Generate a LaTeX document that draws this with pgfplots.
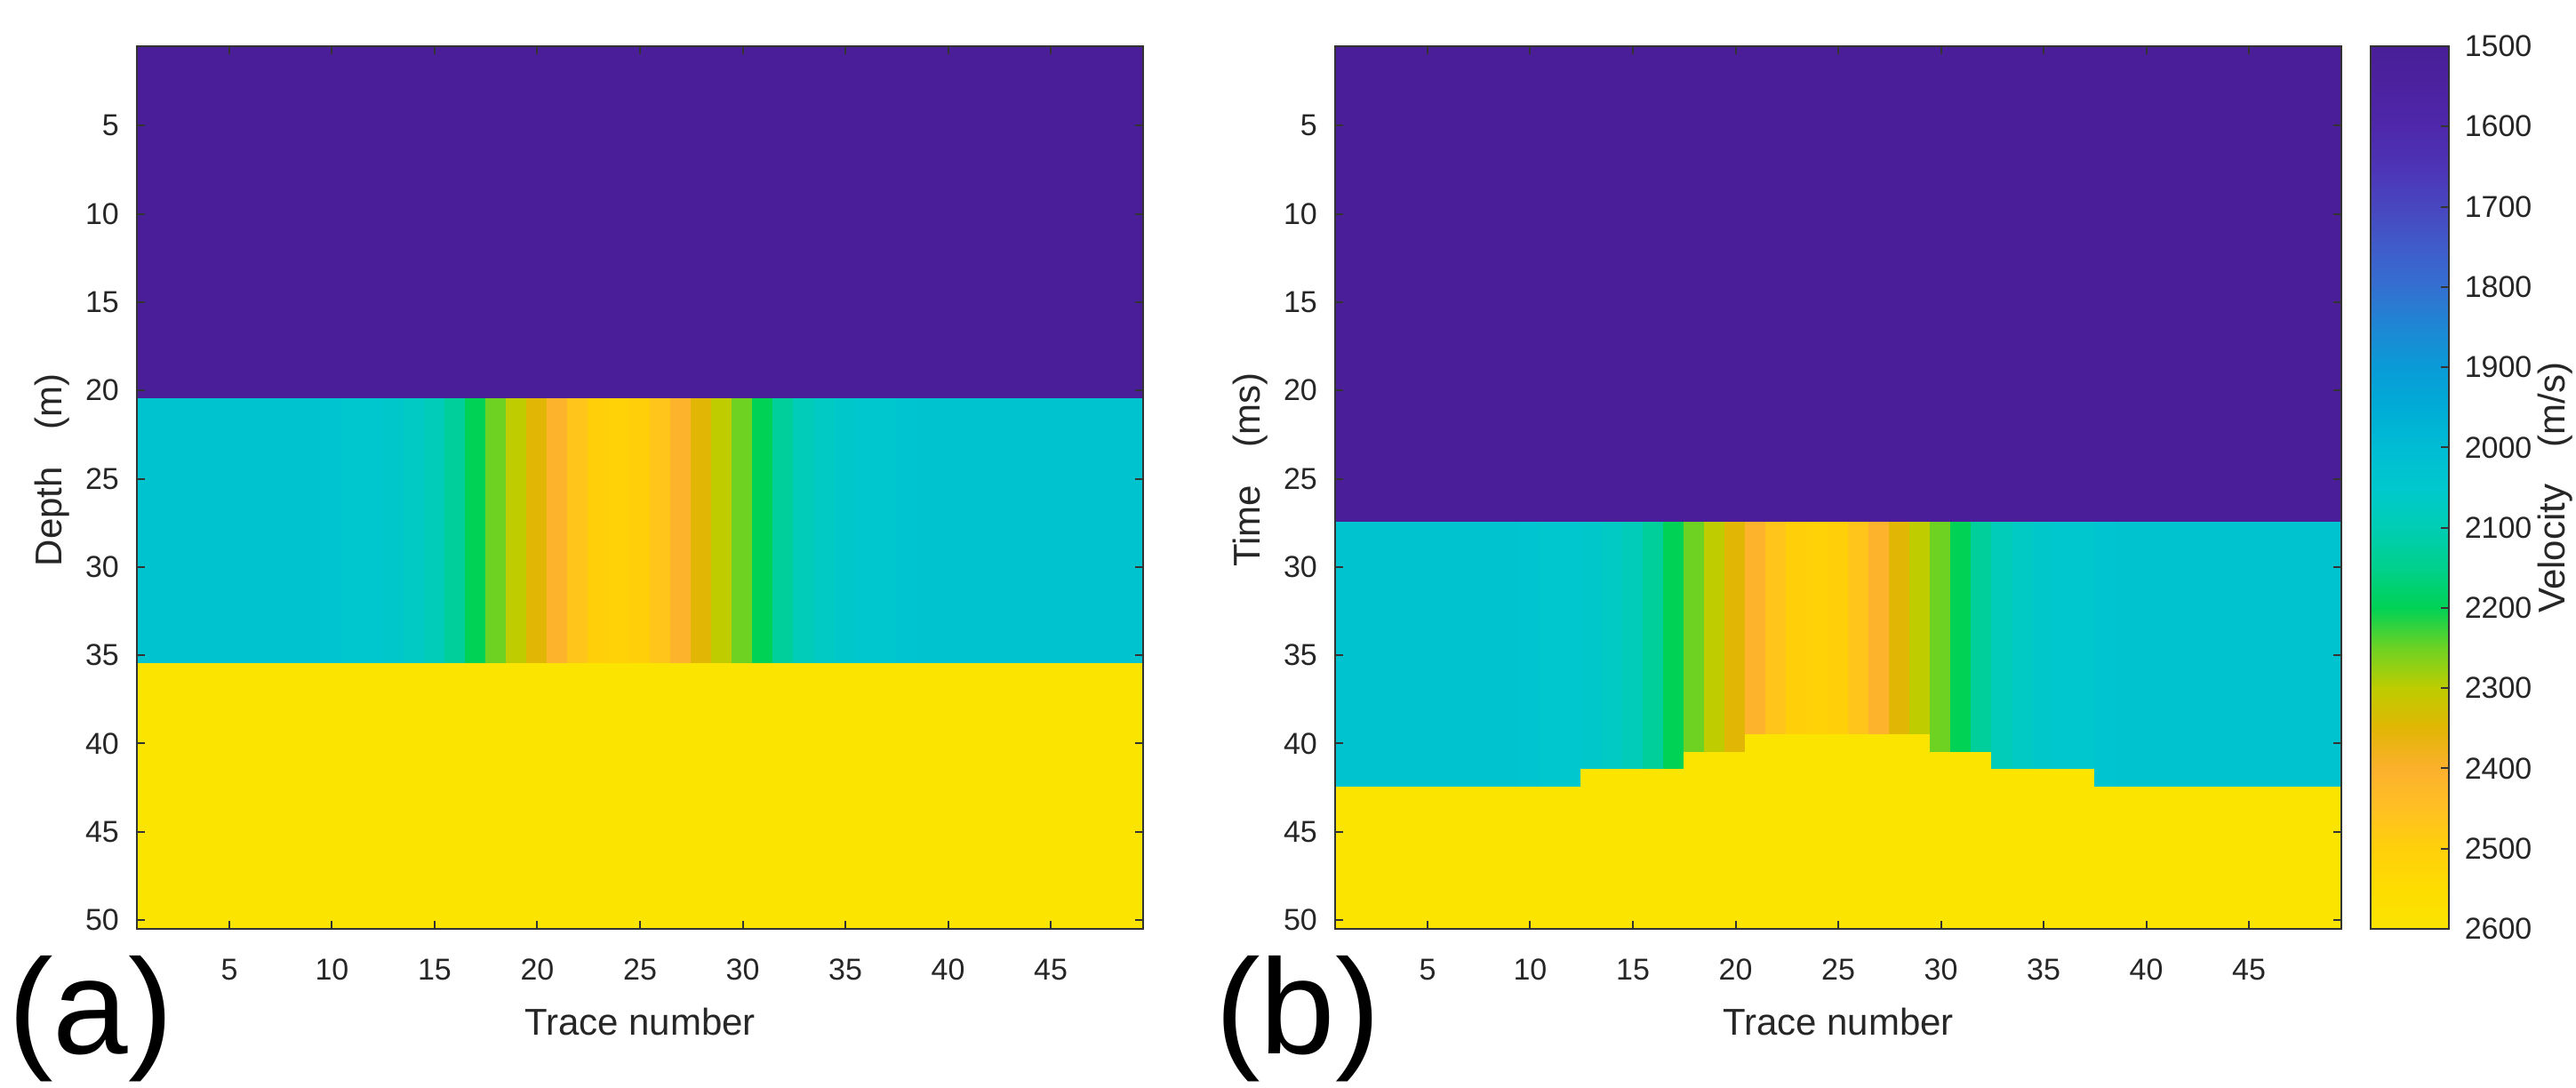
\documentclass[border=0pt]{standalone}
\usepackage{pgfplots}
\pgfplotsset{compat=1.18}
\usepackage{fontspec}
\setmainfont{Liberation Sans}

% parula-like map sampled from the colour bar, 1500..2600 in steps of 50
\pgfplotsset{
  colormap={mparula}{
    rgb255=(74,30,152) rgb255=(76,34,160) rgb255=(78,40,170) rgb255=(77,52,182)
    rgb255=(72,70,192) rgb255=(64,92,202) rgb255=(52,112,208) rgb255=(30,135,212)
    rgb255=(10,155,215) rgb255=(0,172,214) rgb255=(0,188,212) rgb255=(0,200,205)
    rgb255=(0,205,180) rgb255=(0,208,140) rgb255=(0,210,85) rgb255=(110,210,35)
    rgb255=(190,204,0) rgb255=(225,182,5) rgb255=(252,176,45) rgb255=(255,192,35)
    rgb255=(255,208,10) rgb255=(253,220,0) rgb255=(250,228,0)
  },
  tick label style={font=\fontsize{8.5}{10}\selectfont, text=black!85},
  label style={font=\fontsize{10.5}{12}\selectfont, text=black!85},
  /pgf/number format/assume math mode=true,
  /pgf/number format/1000 sep={},
  frame/.style={
    scale only axis, anchor=north west, height=248.25pt,
    enlargelimits=false, axis on top, y dir=reverse,
    colormap name=mparula, point meta min=1500, point meta max=2600,
    tick align=inside, major tick length=2.2pt,
    axis line style={black!80, line width=0.5pt},
    every tick/.style={black!80, line width=0.5pt},
  },
  vel/.style={
    frame, width=283pt,
    xmin=0.5, xmax=49.5, ymin=0.5, ymax=50.5,
    xtick={5,10,...,45}, ytick={5,10,...,50},
    xticklabel style={yshift=-5pt},
    yticklabel style={xshift=-1.5pt},
    xlabel={Trace number},
    xlabel style={at={(axis description cs:0.5,-0.1057)}, anchor=center},
    ylabel style={at={(axis description cs:-0.084,0.52)}, anchor=center},
  },
}

\begin{document}
\begin{tikzpicture}
\useasboundingbox (0,0) rectangle (724.5pt,305.75pt);

% (a) depth section
\begin{axis}[vel, at={(38.5pt,292.75pt)}, ylabel={Depth\quad(m)}]
\addplot[surf, shader=flat corner, point meta=explicit,
  mesh/ordering=y varies, mesh/rows=4, mesh/cols=50] coordinates {
(0.5,0.5)[1500] (0.5,20.5)[2030] (0.5,35.5)[2600] (0.5,50.5)[2600]
(1.5,0.5)[1500] (1.5,20.5)[2030] (1.5,35.5)[2600] (1.5,50.5)[2600]
(2.5,0.5)[1500] (2.5,20.5)[2030] (2.5,35.5)[2600] (2.5,50.5)[2600]
(3.5,0.5)[1500] (3.5,20.5)[2030] (3.5,35.5)[2600] (3.5,50.5)[2600]
(4.5,0.5)[1500] (4.5,20.5)[2030] (4.5,35.5)[2600] (4.5,50.5)[2600]
(5.5,0.5)[1500] (5.5,20.5)[2030] (5.5,35.5)[2600] (5.5,50.5)[2600]
(6.5,0.5)[1500] (6.5,20.5)[2030] (6.5,35.5)[2600] (6.5,50.5)[2600]
(7.5,0.5)[1500] (7.5,20.5)[2030] (7.5,35.5)[2600] (7.5,50.5)[2600]
(8.5,0.5)[1500] (8.5,20.5)[2030] (8.5,35.5)[2600] (8.5,50.5)[2600]
(9.5,0.5)[1500] (9.5,20.5)[2035] (9.5,35.5)[2600] (9.5,50.5)[2600]
(10.5,0.5)[1500] (10.5,20.5)[2040] (10.5,35.5)[2600] (10.5,50.5)[2600]
(11.5,0.5)[1500] (11.5,20.5)[2045] (11.5,35.5)[2600] (11.5,50.5)[2600]
(12.5,0.5)[1500] (12.5,20.5)[2055] (12.5,35.5)[2600] (12.5,50.5)[2600]
(13.5,0.5)[1500] (13.5,20.5)[2070] (13.5,35.5)[2600] (13.5,50.5)[2600]
(14.5,0.5)[1500] (14.5,20.5)[2090] (14.5,35.5)[2600] (14.5,50.5)[2600]
(15.5,0.5)[1500] (15.5,20.5)[2130] (15.5,35.5)[2600] (15.5,50.5)[2600]
(16.5,0.5)[1500] (16.5,20.5)[2200] (16.5,35.5)[2600] (16.5,50.5)[2600]
(17.5,0.5)[1500] (17.5,20.5)[2250] (17.5,35.5)[2600] (17.5,50.5)[2600]
(18.5,0.5)[1500] (18.5,20.5)[2300] (18.5,35.5)[2600] (18.5,50.5)[2600]
(19.5,0.5)[1500] (19.5,20.5)[2350] (19.5,35.5)[2600] (19.5,50.5)[2600]
(20.5,0.5)[1500] (20.5,20.5)[2410] (20.5,35.5)[2600] (20.5,50.5)[2600]
(21.5,0.5)[1500] (21.5,20.5)[2465] (21.5,35.5)[2600] (21.5,50.5)[2600]
(22.5,0.5)[1500] (22.5,20.5)[2500] (22.5,35.5)[2600] (22.5,50.5)[2600]
(23.5,0.5)[1500] (23.5,20.5)[2510] (23.5,35.5)[2600] (23.5,50.5)[2600]
(24.5,0.5)[1500] (24.5,20.5)[2500] (24.5,35.5)[2600] (24.5,50.5)[2600]
(25.5,0.5)[1500] (25.5,20.5)[2465] (25.5,35.5)[2600] (25.5,50.5)[2600]
(26.5,0.5)[1500] (26.5,20.5)[2410] (26.5,35.5)[2600] (26.5,50.5)[2600]
(27.5,0.5)[1500] (27.5,20.5)[2350] (27.5,35.5)[2600] (27.5,50.5)[2600]
(28.5,0.5)[1500] (28.5,20.5)[2300] (28.5,35.5)[2600] (28.5,50.5)[2600]
(29.5,0.5)[1500] (29.5,20.5)[2250] (29.5,35.5)[2600] (29.5,50.5)[2600]
(30.5,0.5)[1500] (30.5,20.5)[2200] (30.5,35.5)[2600] (30.5,50.5)[2600]
(31.5,0.5)[1500] (31.5,20.5)[2130] (31.5,35.5)[2600] (31.5,50.5)[2600]
(32.5,0.5)[1500] (32.5,20.5)[2090] (32.5,35.5)[2600] (32.5,50.5)[2600]
(33.5,0.5)[1500] (33.5,20.5)[2070] (33.5,35.5)[2600] (33.5,50.5)[2600]
(34.5,0.5)[1500] (34.5,20.5)[2055] (34.5,35.5)[2600] (34.5,50.5)[2600]
(35.5,0.5)[1500] (35.5,20.5)[2045] (35.5,35.5)[2600] (35.5,50.5)[2600]
(36.5,0.5)[1500] (36.5,20.5)[2040] (36.5,35.5)[2600] (36.5,50.5)[2600]
(37.5,0.5)[1500] (37.5,20.5)[2035] (37.5,35.5)[2600] (37.5,50.5)[2600]
(38.5,0.5)[1500] (38.5,20.5)[2030] (38.5,35.5)[2600] (38.5,50.5)[2600]
(39.5,0.5)[1500] (39.5,20.5)[2030] (39.5,35.5)[2600] (39.5,50.5)[2600]
(40.5,0.5)[1500] (40.5,20.5)[2030] (40.5,35.5)[2600] (40.5,50.5)[2600]
(41.5,0.5)[1500] (41.5,20.5)[2030] (41.5,35.5)[2600] (41.5,50.5)[2600]
(42.5,0.5)[1500] (42.5,20.5)[2030] (42.5,35.5)[2600] (42.5,50.5)[2600]
(43.5,0.5)[1500] (43.5,20.5)[2030] (43.5,35.5)[2600] (43.5,50.5)[2600]
(44.5,0.5)[1500] (44.5,20.5)[2030] (44.5,35.5)[2600] (44.5,50.5)[2600]
(45.5,0.5)[1500] (45.5,20.5)[2030] (45.5,35.5)[2600] (45.5,50.5)[2600]
(46.5,0.5)[1500] (46.5,20.5)[2030] (46.5,35.5)[2600] (46.5,50.5)[2600]
(47.5,0.5)[1500] (47.5,20.5)[2030] (47.5,35.5)[2600] (47.5,50.5)[2600]
(48.5,0.5)[1500] (48.5,20.5)[2030] (48.5,35.5)[2600] (48.5,50.5)[2600]
(49.5,0.5)[1500] (49.5,20.5)[2030] (49.5,35.5)[2600] (49.5,50.5)[2600]
};
\end{axis}

% (b) time section
\begin{axis}[vel, at={(375.5pt,292.75pt)}, ylabel={Time\quad(ms)}]
\addplot[surf, shader=flat corner, point meta=explicit,
  mesh/ordering=y varies, mesh/rows=7, mesh/cols=50] coordinates {
(0.5,0.5)[1500] (0.5,27.5)[2030] (0.5,39.5)[2030] (0.5,40.5)[2030] (0.5,41.5)[2030] (0.5,42.5)[2600] (0.5,50.5)[2600]
(1.5,0.5)[1500] (1.5,27.5)[2030] (1.5,39.5)[2030] (1.5,40.5)[2030] (1.5,41.5)[2030] (1.5,42.5)[2600] (1.5,50.5)[2600]
(2.5,0.5)[1500] (2.5,27.5)[2030] (2.5,39.5)[2030] (2.5,40.5)[2030] (2.5,41.5)[2030] (2.5,42.5)[2600] (2.5,50.5)[2600]
(3.5,0.5)[1500] (3.5,27.5)[2030] (3.5,39.5)[2030] (3.5,40.5)[2030] (3.5,41.5)[2030] (3.5,42.5)[2600] (3.5,50.5)[2600]
(4.5,0.5)[1500] (4.5,27.5)[2030] (4.5,39.5)[2030] (4.5,40.5)[2030] (4.5,41.5)[2030] (4.5,42.5)[2600] (4.5,50.5)[2600]
(5.5,0.5)[1500] (5.5,27.5)[2030] (5.5,39.5)[2030] (5.5,40.5)[2030] (5.5,41.5)[2030] (5.5,42.5)[2600] (5.5,50.5)[2600]
(6.5,0.5)[1500] (6.5,27.5)[2030] (6.5,39.5)[2030] (6.5,40.5)[2030] (6.5,41.5)[2030] (6.5,42.5)[2600] (6.5,50.5)[2600]
(7.5,0.5)[1500] (7.5,27.5)[2030] (7.5,39.5)[2030] (7.5,40.5)[2030] (7.5,41.5)[2030] (7.5,42.5)[2600] (7.5,50.5)[2600]
(8.5,0.5)[1500] (8.5,27.5)[2030] (8.5,39.5)[2030] (8.5,40.5)[2030] (8.5,41.5)[2030] (8.5,42.5)[2600] (8.5,50.5)[2600]
(9.5,0.5)[1500] (9.5,27.5)[2035] (9.5,39.5)[2035] (9.5,40.5)[2035] (9.5,41.5)[2035] (9.5,42.5)[2600] (9.5,50.5)[2600]
(10.5,0.5)[1500] (10.5,27.5)[2040] (10.5,39.5)[2040] (10.5,40.5)[2040] (10.5,41.5)[2040] (10.5,42.5)[2600] (10.5,50.5)[2600]
(11.5,0.5)[1500] (11.5,27.5)[2045] (11.5,39.5)[2045] (11.5,40.5)[2045] (11.5,41.5)[2045] (11.5,42.5)[2600] (11.5,50.5)[2600]
(12.5,0.5)[1500] (12.5,27.5)[2055] (12.5,39.5)[2055] (12.5,40.5)[2055] (12.5,41.5)[2600] (12.5,42.5)[2600] (12.5,50.5)[2600]
(13.5,0.5)[1500] (13.5,27.5)[2070] (13.5,39.5)[2070] (13.5,40.5)[2070] (13.5,41.5)[2600] (13.5,42.5)[2600] (13.5,50.5)[2600]
(14.5,0.5)[1500] (14.5,27.5)[2090] (14.5,39.5)[2090] (14.5,40.5)[2090] (14.5,41.5)[2600] (14.5,42.5)[2600] (14.5,50.5)[2600]
(15.5,0.5)[1500] (15.5,27.5)[2130] (15.5,39.5)[2130] (15.5,40.5)[2130] (15.5,41.5)[2600] (15.5,42.5)[2600] (15.5,50.5)[2600]
(16.5,0.5)[1500] (16.5,27.5)[2200] (16.5,39.5)[2200] (16.5,40.5)[2200] (16.5,41.5)[2600] (16.5,42.5)[2600] (16.5,50.5)[2600]
(17.5,0.5)[1500] (17.5,27.5)[2250] (17.5,39.5)[2250] (17.5,40.5)[2600] (17.5,41.5)[2600] (17.5,42.5)[2600] (17.5,50.5)[2600]
(18.5,0.5)[1500] (18.5,27.5)[2300] (18.5,39.5)[2300] (18.5,40.5)[2600] (18.5,41.5)[2600] (18.5,42.5)[2600] (18.5,50.5)[2600]
(19.5,0.5)[1500] (19.5,27.5)[2350] (19.5,39.5)[2350] (19.5,40.5)[2600] (19.5,41.5)[2600] (19.5,42.5)[2600] (19.5,50.5)[2600]
(20.5,0.5)[1500] (20.5,27.5)[2410] (20.5,39.5)[2600] (20.5,40.5)[2600] (20.5,41.5)[2600] (20.5,42.5)[2600] (20.5,50.5)[2600]
(21.5,0.5)[1500] (21.5,27.5)[2465] (21.5,39.5)[2600] (21.5,40.5)[2600] (21.5,41.5)[2600] (21.5,42.5)[2600] (21.5,50.5)[2600]
(22.5,0.5)[1500] (22.5,27.5)[2500] (22.5,39.5)[2600] (22.5,40.5)[2600] (22.5,41.5)[2600] (22.5,42.5)[2600] (22.5,50.5)[2600]
(23.5,0.5)[1500] (23.5,27.5)[2510] (23.5,39.5)[2600] (23.5,40.5)[2600] (23.5,41.5)[2600] (23.5,42.5)[2600] (23.5,50.5)[2600]
(24.5,0.5)[1500] (24.5,27.5)[2500] (24.5,39.5)[2600] (24.5,40.5)[2600] (24.5,41.5)[2600] (24.5,42.5)[2600] (24.5,50.5)[2600]
(25.5,0.5)[1500] (25.5,27.5)[2465] (25.5,39.5)[2600] (25.5,40.5)[2600] (25.5,41.5)[2600] (25.5,42.5)[2600] (25.5,50.5)[2600]
(26.5,0.5)[1500] (26.5,27.5)[2410] (26.5,39.5)[2600] (26.5,40.5)[2600] (26.5,41.5)[2600] (26.5,42.5)[2600] (26.5,50.5)[2600]
(27.5,0.5)[1500] (27.5,27.5)[2350] (27.5,39.5)[2600] (27.5,40.5)[2600] (27.5,41.5)[2600] (27.5,42.5)[2600] (27.5,50.5)[2600]
(28.5,0.5)[1500] (28.5,27.5)[2300] (28.5,39.5)[2600] (28.5,40.5)[2600] (28.5,41.5)[2600] (28.5,42.5)[2600] (28.5,50.5)[2600]
(29.5,0.5)[1500] (29.5,27.5)[2250] (29.5,39.5)[2250] (29.5,40.5)[2600] (29.5,41.5)[2600] (29.5,42.5)[2600] (29.5,50.5)[2600]
(30.5,0.5)[1500] (30.5,27.5)[2200] (30.5,39.5)[2200] (30.5,40.5)[2600] (30.5,41.5)[2600] (30.5,42.5)[2600] (30.5,50.5)[2600]
(31.5,0.5)[1500] (31.5,27.5)[2130] (31.5,39.5)[2130] (31.5,40.5)[2600] (31.5,41.5)[2600] (31.5,42.5)[2600] (31.5,50.5)[2600]
(32.5,0.5)[1500] (32.5,27.5)[2090] (32.5,39.5)[2090] (32.5,40.5)[2090] (32.5,41.5)[2600] (32.5,42.5)[2600] (32.5,50.5)[2600]
(33.5,0.5)[1500] (33.5,27.5)[2070] (33.5,39.5)[2070] (33.5,40.5)[2070] (33.5,41.5)[2600] (33.5,42.5)[2600] (33.5,50.5)[2600]
(34.5,0.5)[1500] (34.5,27.5)[2055] (34.5,39.5)[2055] (34.5,40.5)[2055] (34.5,41.5)[2600] (34.5,42.5)[2600] (34.5,50.5)[2600]
(35.5,0.5)[1500] (35.5,27.5)[2045] (35.5,39.5)[2045] (35.5,40.5)[2045] (35.5,41.5)[2600] (35.5,42.5)[2600] (35.5,50.5)[2600]
(36.5,0.5)[1500] (36.5,27.5)[2040] (36.5,39.5)[2040] (36.5,40.5)[2040] (36.5,41.5)[2600] (36.5,42.5)[2600] (36.5,50.5)[2600]
(37.5,0.5)[1500] (37.5,27.5)[2035] (37.5,39.5)[2035] (37.5,40.5)[2035] (37.5,41.5)[2035] (37.5,42.5)[2600] (37.5,50.5)[2600]
(38.5,0.5)[1500] (38.5,27.5)[2030] (38.5,39.5)[2030] (38.5,40.5)[2030] (38.5,41.5)[2030] (38.5,42.5)[2600] (38.5,50.5)[2600]
(39.5,0.5)[1500] (39.5,27.5)[2030] (39.5,39.5)[2030] (39.5,40.5)[2030] (39.5,41.5)[2030] (39.5,42.5)[2600] (39.5,50.5)[2600]
(40.5,0.5)[1500] (40.5,27.5)[2030] (40.5,39.5)[2030] (40.5,40.5)[2030] (40.5,41.5)[2030] (40.5,42.5)[2600] (40.5,50.5)[2600]
(41.5,0.5)[1500] (41.5,27.5)[2030] (41.5,39.5)[2030] (41.5,40.5)[2030] (41.5,41.5)[2030] (41.5,42.5)[2600] (41.5,50.5)[2600]
(42.5,0.5)[1500] (42.5,27.5)[2030] (42.5,39.5)[2030] (42.5,40.5)[2030] (42.5,41.5)[2030] (42.5,42.5)[2600] (42.5,50.5)[2600]
(43.5,0.5)[1500] (43.5,27.5)[2030] (43.5,39.5)[2030] (43.5,40.5)[2030] (43.5,41.5)[2030] (43.5,42.5)[2600] (43.5,50.5)[2600]
(44.5,0.5)[1500] (44.5,27.5)[2030] (44.5,39.5)[2030] (44.5,40.5)[2030] (44.5,41.5)[2030] (44.5,42.5)[2600] (44.5,50.5)[2600]
(45.5,0.5)[1500] (45.5,27.5)[2030] (45.5,39.5)[2030] (45.5,40.5)[2030] (45.5,41.5)[2030] (45.5,42.5)[2600] (45.5,50.5)[2600]
(46.5,0.5)[1500] (46.5,27.5)[2030] (46.5,39.5)[2030] (46.5,40.5)[2030] (46.5,41.5)[2030] (46.5,42.5)[2600] (46.5,50.5)[2600]
(47.5,0.5)[1500] (47.5,27.5)[2030] (47.5,39.5)[2030] (47.5,40.5)[2030] (47.5,41.5)[2030] (47.5,42.5)[2600] (47.5,50.5)[2600]
(48.5,0.5)[1500] (48.5,27.5)[2030] (48.5,39.5)[2030] (48.5,40.5)[2030] (48.5,41.5)[2030] (48.5,42.5)[2600] (48.5,50.5)[2600]
(49.5,0.5)[1500] (49.5,27.5)[2030] (49.5,39.5)[2030] (49.5,40.5)[2030] (49.5,41.5)[2030] (49.5,42.5)[2600] (49.5,50.5)[2600]
};
\end{axis}

% colour bar as its own axis: velocity runs down from 1500 to 2600
\begin{axis}[frame, at={(666.75pt,292.75pt)}, width=22pt,
  xmin=0, xmax=1, ymin=1500, ymax=2600, xtick=\empty,
  ytick={1500,1600,...,2600}, ytick pos=right, yticklabel pos=right,
  yticklabel style={xshift=0.9pt},
  ylabel={Velocity\quad(m/s)},
  ylabel style={at={(axis description cs:2.364,0.5)}, anchor=center}]
\addplot[surf, shader=interp, point meta=y, mesh/rows=2, mesh/cols=2]
  coordinates {(0,1500) (1,1500) (0,2600) (1,2600)};
\end{axis}

\node[font=\fontsize{38}{42}\selectfont, anchor=base] at (25.5pt,9.5pt) {(a)};
\node[font=\fontsize{38}{42}\selectfont, anchor=base] at (365pt,9.5pt) {(b)};
\end{tikzpicture}
\end{document}
